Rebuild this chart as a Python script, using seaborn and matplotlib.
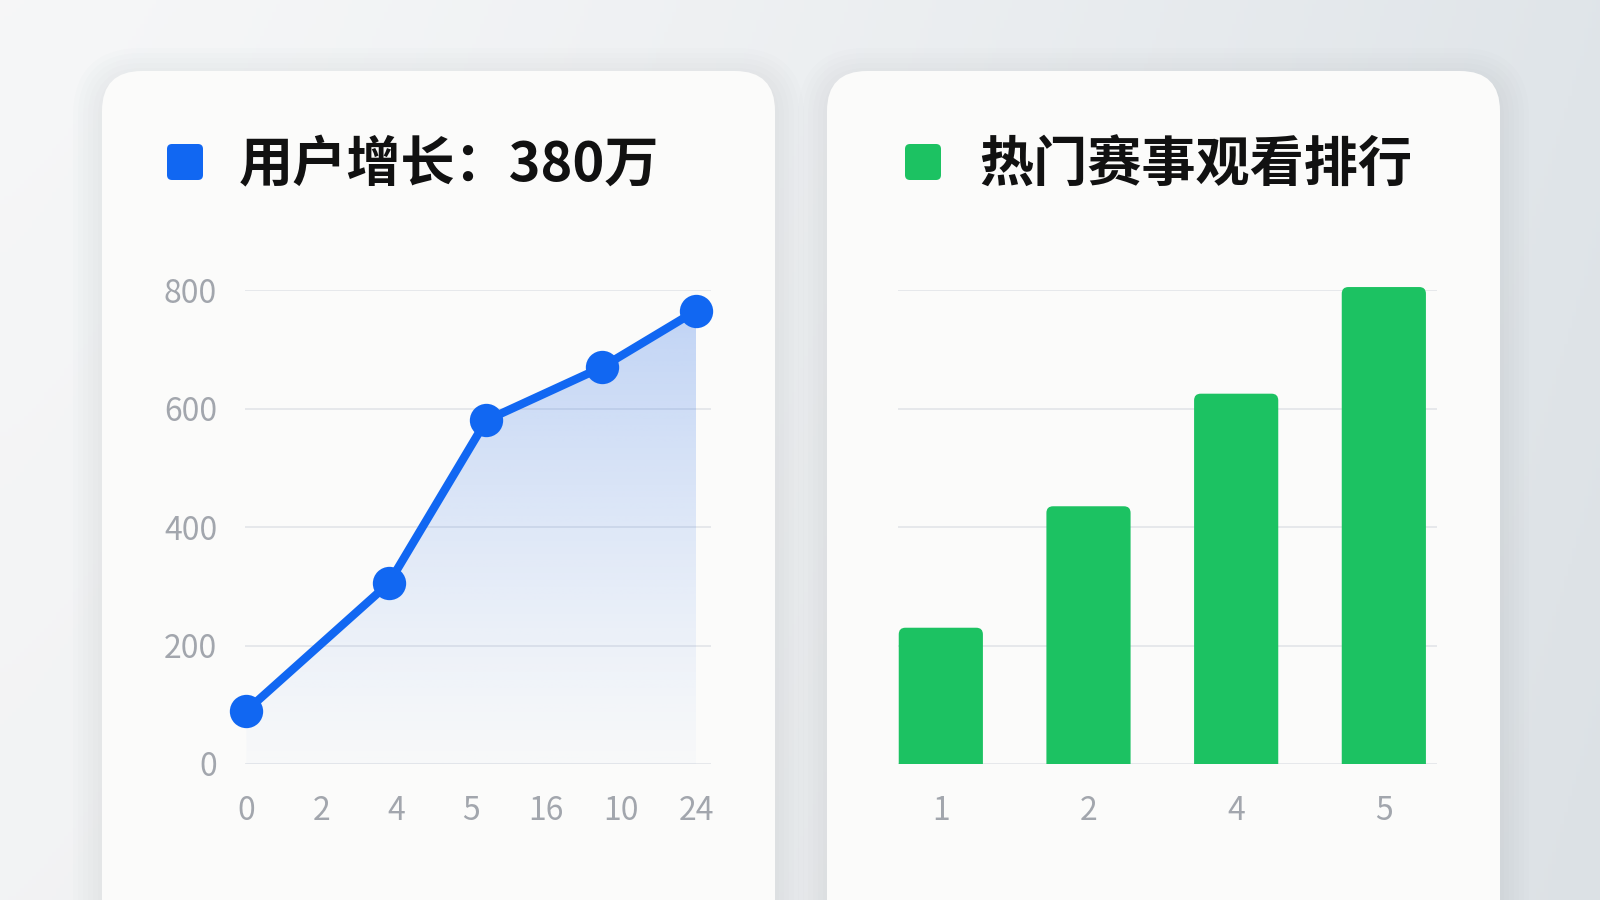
import numpy as np
import matplotlib
matplotlib.use("Agg")
import matplotlib.pyplot as plt
from matplotlib.patches import FancyBboxPatch, Rectangle
import seaborn as sns

# 用户增长 (line)
growth_ticks = ["0", "2", "4", "5", "16", "10", "24"]
growth_x = [0, 1.9, 3.2, 4.75, 6]
growth_users = [90, 305, 580, 670, 765]

# 热门赛事观看排行 (bars)
event_labels = ["1", "2", "4", "5"]
event_views = [230, 435, 625, 805]

y_ticks = [0, 200, 400, 600, 800]

BLUE = "#1167f2"
GREEN = "#1cc262"
GRID = "#e6e8eb"
TICK = "#a2a6ad"

sns.set_style("white")
plt.rcParams['font.family'] = ['Noto Sans CJK SC', 'DejaVu Sans']

fig = plt.figure(figsize=(16, 9), dpi=100)

# background in pixel coords
bg = fig.add_axes([0, 0, 1, 1], zorder=-10)
bg.set_xlim(0, 1600)
bg.set_ylim(900, 0)
bg.axis("off")
gx = np.linspace(0, 1, 400)[None, :, None]
gy = np.linspace(0, 1, 225)[:, None, None]
left_c = np.array([0.965, 0.968, 0.972])
right_c = np.array([0.878, 0.898, 0.914])
img = left_c + (right_c - left_c) * gx ** 1.3 - 0.015 * gy
bg.imshow(np.clip(img, 0, 1), extent=[0, 1600, 900, 0], aspect="auto", zorder=0)

cards = [(102, 71, 673), (827, 71, 673)]
for cx, cy, cw in cards:
    for k in range(6):
        grow = 4 + k * 5
        bg.add_patch(FancyBboxPatch((cx - grow, cy - grow + 6), cw + 2 * grow, 1000,
                                    boxstyle=f"round,pad=0,rounding_size={40 + grow}",
                                    fc="#8a949e", ec="none", alpha=0.018, zorder=1))
    bg.add_patch(FancyBboxPatch((cx, cy), cw, 1000,
                                boxstyle="round,pad=0,rounding_size=40",
                                fc="#fbfbfa", ec="none", zorder=2))

# titles
bg.add_patch(FancyBboxPatch((167, 144), 36, 36, boxstyle="round,pad=0,rounding_size=5",
                            fc=BLUE, ec="none", zorder=3))
bg.text(239, 166, "用户增长：380万", fontsize=39, fontweight="bold", color="#111111",
        va="center", ha="left", zorder=3)
bg.add_patch(FancyBboxPatch((905, 144), 36, 36, boxstyle="round,pad=0,rounding_size=5",
                            fc=GREEN, ec="none", zorder=3))
bg.text(979, 166, "热门赛事观看排行", fontsize=39, fontweight="bold", color="#111111",
        va="center", ha="left", zorder=3)


def style_axis(ax):
    ax.patch.set_alpha(0)
    sns.despine(ax=ax, left=True, bottom=True)
    ax.set_axisbelow(True)
    ax.yaxis.grid(True, color=GRID, lw=1.4)
    ax.xaxis.grid(False)
    ax.set_ylim(0, 800)
    ax.set_yticks(y_ticks)
    ax.tick_params(length=0, labelsize=23, colors=TICK)
    ax.tick_params(axis="x", pad=22)
    ax.tick_params(axis="y", pad=20)
    ax.set(xlabel=None, ylabel=None)


# left: line chart
ax1 = fig.add_axes([245 / 1600, 1 - 764 / 900, 466 / 1600, 474 / 900])
poly = ax1.fill_between(growth_x, growth_users, 0, color="none", lw=0)
grad = np.linspace(0, 1, 256)[:, None]
rgba = np.zeros((256, 1, 4))
rgba[..., :3] = matplotlib.colors.to_rgb("#2f72e8")
rgba[..., 3] = 0.02 + 0.28 * grad ** 1.2
im = ax1.imshow(rgba, extent=[0, 6, 0, 800], origin="lower", aspect="auto", zorder=1)
im.set_clip_path(poly.get_paths()[0], transform=ax1.transData)
sns.lineplot(x=growth_x, y=growth_users, ax=ax1, color=BLUE, lw=6, marker="o",
             markersize=24, markeredgewidth=0, clip_on=False, zorder=3)
style_axis(ax1)
ax1.set_xlim(-0.02, 6.2)
ax1.set_xticks(range(len(growth_ticks)))
ax1.set_xticklabels(growth_ticks)

# right: bar chart
ax2 = fig.add_axes([898 / 1600, 1 - 764 / 900, 539 / 1600, 474 / 900])
sns.barplot(x=event_labels, y=event_views, ax=ax2, color=GREEN, saturation=1, width=0.57)
style_axis(ax2)
ax2.set_xlim(-0.29, 3.36)
ax2.set_yticklabels([])
ax2.tick_params(axis="y", pad=0)
clip = Rectangle((0, 0), 1, 1.2, transform=ax2.transAxes, fc="none", ec="none")
for p in list(ax2.patches):
    x, w, h = p.get_x(), p.get_width(), p.get_height()
    p.remove()
    bar = FancyBboxPatch((x, -20), w, h + 20,
                         boxstyle="round,pad=0,rounding_size=0.045",
                         mutation_aspect=250, fc=GREEN, ec="none", zorder=2)
    ax2.add_patch(bar)
    bar.set_clip_path(clip)

fig.savefig("out.png", dpi=100)
